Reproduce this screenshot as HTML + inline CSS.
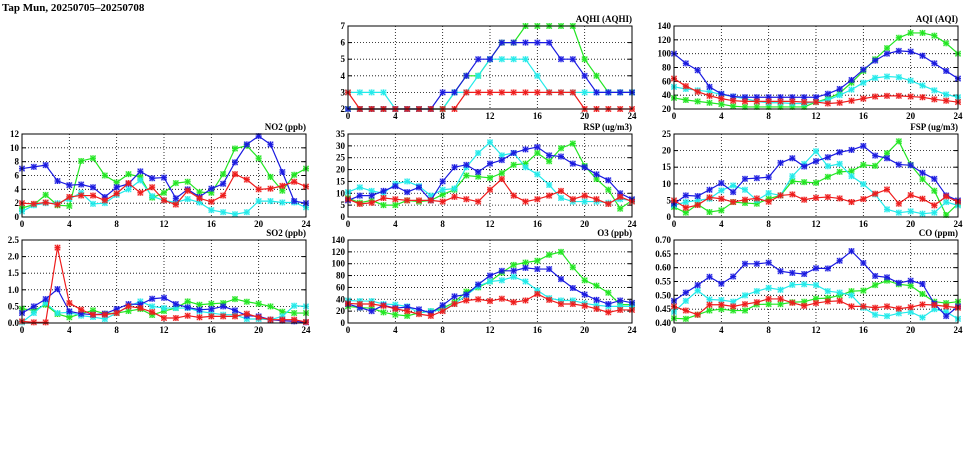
<!DOCTYPE html>
<html><head><meta charset="utf-8"><style>
html,body{margin:0;padding:0;background:#fff;}
body{width:975px;height:447px;overflow:hidden;position:relative;font-family:"Liberation Sans",sans-serif;}
svg text{font-family:"Liberation Serif",serif;font-weight:bold;font-size:9px;fill:#000;}
</style></head><body>
<svg id="chart" width="975" height="447" viewBox="0 0 975 447" xmlns="http://www.w3.org/2000/svg">
<text x="2" y="11" style="font-size:11px">Tap Mun, 20250705–20250708</text>
</svg>
<script>
const hours = [0,1,2,3,4,5,6,7,8,9,10,11,12,13,14,15,16,17,18,19,20,21,22,23,24];
const xTicks = [0,4,8,12,16,20,24];

const aqhiRed   = [3,2,2,2,2,2,2,2,2,2,3,3,3,3,3,3,3,3,3,3,2,2,2,2,2];
const aqhiGreen = [2,2,2,2,2,2,2,2,2,3,4,4,5,6,6,7,7,7,7,7,5,4,3,3,3];
const aqhiCyan  = [3,3,3,3,2,2,2,2,2,3,3,4,5,5,5,5,4,3,3,3,3,3,3,3,3];
const aqhiBlue  = [2,2,2,2,2,2,2,2,3,3,4,5,5,6,6,6,6,6,5,5,4,3,3,3,3];
const aqhiTicks = [2,3,4,5,6,7];

const aqiRed   = [64,53,45,39,35,32,31,31,31,31,31,30,30,28,29,32,35,38,39,39,38,37,34,32,30];
const aqiGreen = [36,33,31,29,27,24,23,23,23,23,23,23,30,35,43,58,75,92,108,123,130,130,126,115,100];
const aqiCyan  = [52,49,47,45,41,38,35,31,29,29,28,28,30,33,40,48,58,65,67,66,61,54,47,41,37];
const aqiBlue  = [100,86,76,52,42,38,37,37,37,37,37,37,37,42,49,62,77,90,100,104,103,97,86,75,64];
const aqiTicks = [20,40,60,80,100,120,140];

const no2Red   = [2.0,1.9,2.1,1.8,2.9,3.1,3.1,2.4,3.4,4.9,3.5,4.3,2.4,1.8,3.8,2.7,2.2,3.1,6.2,5.4,4.0,4.1,4.5,5.1,4.4];
const no2Green = [1.3,1.8,3.2,1.7,1.6,8.1,8.5,6.0,5.0,6.2,5.8,2.8,3.5,4.9,5.1,3.6,3.5,6.2,9.9,10.3,8.5,5.8,3.8,6.1,7.0];
const no2Cyan  = [0.8,1.7,2.0,2.0,2.6,3.5,1.9,2.0,3.2,4.0,5.3,3.0,2.4,2.1,2.6,2.1,1.0,0.7,0.4,0.7,2.3,2.3,2.1,2.1,1.4];
const no2Blue  = [7.0,7.25,7.5,5.2,4.6,4.7,4.3,2.9,4.3,4.8,6.6,5.6,5.7,2.7,4.0,2.9,4.1,4.8,7.9,10.5,11.7,10.5,6.5,2.3,2.0];
const no2Ticks = [0,2,4,6,8,10,12];

const rspRed   = [7.5,5.5,6,8,7.5,7,7,7,6.5,8.5,7.5,6.5,11.5,16,9,6.5,7.5,9,11,7.5,9,7.5,5.5,8.5,6.5];
const rspGreen = [8,6,7,5,5,7,6.5,7,9.5,11.5,17.5,17,16.5,18.5,22,22.5,27,23.5,29,31,21.5,16,11.5,3.5,7];
const rspCyan  = [10.5,12.5,11,10,14,15,13,9,11.5,12,21,27,31.5,26,27,21,18,13.5,8,6.5,6.5,6.5,6,7.5,7];
const rspBlue  = [7,9,9,11,13,10.5,12.5,7,15,21,22,19,22.5,24,27,28.5,29.5,26,25.5,22.5,21,18,15.5,10,7.5];
const rspTicks = [0,5,10,15,20,25,30,35];

const fspRed   = [5,2.8,3.6,5.9,5.5,4.5,5.2,5.6,4.6,6.5,6.8,5.2,5.8,6,5.6,4.5,5.4,7,8.3,4,6.6,5.5,3.5,6.2,4.6];
const fspGreen = [3,1.3,3.8,1.5,2,4.5,4.2,4,5.5,6.5,10.8,10.5,10.3,12.1,13.6,13.8,15.7,15.4,19.2,22.8,15.7,11.4,7.9,0.6,4];
const fspCyan  = [3.5,4.5,5,5.5,8,9.5,8.2,5,7.2,6.5,12.3,16,19.8,15.3,16,12.3,9.9,6.8,2.3,1.3,1.7,1,1.3,4.5,3.5];
const fspBlue  = [4,6.5,6.3,8.2,10.2,7.5,11.5,11.7,12,16.3,17.7,15.2,16.8,18,19.5,20.2,21.4,18.5,17.7,15.8,15.6,13.3,11.5,6.5,5];
const fspTicks = [0,5,10,15,20,25];

const so2Red   = [0.05,0.02,0.02,2.27,0.6,0.4,0.25,0.25,0.3,0.5,0.45,0.33,0.15,0.15,0.22,0.17,0.2,0.2,0.2,0.28,0.17,0.1,0.1,0.1,0.03];
const so2Green = [0.43,0.38,0.55,0.27,0.17,0.28,0.38,0.28,0.3,0.36,0.42,0.24,0.36,0.45,0.65,0.55,0.58,0.6,0.72,0.64,0.58,0.5,0.34,0.3,0.3];
const so2Cyan  = [0.02,0.3,0.6,0.3,0.32,0.22,0.18,0.12,0.3,0.5,0.65,0.5,0.45,0.45,0.45,0.35,0.3,0.25,0.25,0.12,0.12,0.1,0.2,0.52,0.5];
const so2Blue  = [0.3,0.5,0.72,1.02,0.35,0.28,0.25,0.28,0.42,0.57,0.56,0.73,0.76,0.57,0.47,0.4,0.42,0.5,0.38,0.22,0.2,0.1,0.07,0.05,0.02];
const so2Ticks = [0,0.5,1.0,1.5,2.0,2.5];

const o3Red   = [33,32,32,29,24,20,15,12,20,32,38,40,37,41,35,38,49,39,32,32,29,24,18,22,22];
const o3Green = [28,26,25,18,14,12,17,20,25,35,53,60,70,85,98,102,105,115,120,94,72,63,51,31,31];
const o3Cyan  = [38,37,37,32,31,28,17,20,22,32,47,62,70,72,78,70,55,42,38,38,33,30,28,28,28];
const o3Blue  = [32,26,20,30,25,27,23,17,30,45,48,65,80,88,88,93,91,91,74,59,48,39,32,38,34];
const o3Ticks = [0,20,40,60,80,100,120,140];

const coRed   = [0.46,0.445,0.43,0.466,0.466,0.46,0.468,0.475,0.487,0.487,0.473,0.462,0.472,0.478,0.48,0.46,0.46,0.455,0.46,0.452,0.457,0.467,0.465,0.46,0.455];
const coGreen = [0.417,0.415,0.43,0.445,0.45,0.445,0.445,0.467,0.468,0.468,0.475,0.477,0.488,0.49,0.50,0.515,0.517,0.537,0.553,0.54,0.535,0.505,0.477,0.472,0.477];
const coCyan  = [0.44,0.48,0.517,0.485,0.483,0.477,0.50,0.515,0.527,0.52,0.538,0.54,0.537,0.515,0.51,0.50,0.455,0.43,0.425,0.435,0.44,0.42,0.45,0.44,0.415];
const coBlue  = [0.48,0.51,0.537,0.567,0.542,0.568,0.614,0.614,0.618,0.587,0.581,0.577,0.598,0.597,0.625,0.66,0.617,0.57,0.565,0.545,0.553,0.541,0.47,0.425,0.46];
const coTicks = [0.40,0.45,0.50,0.55,0.60,0.65,0.70];

const NS = "http://www.w3.org/2000/svg";
const svg = document.getElementById('chart');
function mk(tag, attrs, parent){
  const e = document.createElementNS(NS, tag);
  for (const k in attrs) e.setAttribute(k, attrs[k]);
  (parent||svg).appendChild(e);
  return e;
}
const COLORS = {red:'#ee1c1c', green:'#22e622', cyan:'#22eaea', blue:'#1a1ae0'};

function panel(name, title, left, top, ticks, dec, series){
  const w = 284, h = 83;
  const ymin = ticks[0], ymax = ticks[ticks.length-1];
  const xs = v => left + v / 24 * w;
  const ys = v => top + h - (v - ymin) / (ymax - ymin) * h;
  const g = mk('g', {});
  
  
  ticks.forEach((t, i) => {
    if (i > 0 && i < ticks.length - 1) {
      const l = mk('line', {x1:left, x2:left+w, y1:ys(t), y2:ys(t), stroke:'#000', 'stroke-width':0.8, 'stroke-dasharray':'1,2'}, g);
      
      
    }
    const tx = mk('text', {x:left-3, y:ys(t)+3, 'text-anchor':'end'}, g);
    
    
    tx.textContent = t.toFixed(dec);
    mk('line', {x1:left, x2:left+4, y1:ys(t), y2:ys(t), stroke:'#000'}, g);
    mk('line', {x1:left+w-4, x2:left+w, y1:ys(t), y2:ys(t), stroke:'#000'}, g);
  });
  xTicks.forEach((t, i) => {
    if (i > 0 && i < xTicks.length - 1) {
      const l = mk('line', {x1:xs(t), x2:xs(t), y1:top, y2:top+h, stroke:'#000', 'stroke-width':0.8, 'stroke-dasharray':'1,2'}, g);
      
      
    }
    const tx = mk('text', {x:xs(t), y:top+h+10, 'text-anchor':'middle'}, g);
    
    
    tx.textContent = t;
  });
  series.forEach(s => {
    const col = COLORS[s.c];
    const pts = hours.map((hr, i) => xs(hr) + ',' + ys(s.d[i])).join(' ');
    const pl = mk('polyline', {points:pts, fill:'none', stroke:col, 'stroke-width':1.2}, g);
    
    
    hours.forEach((hr, i) => {
      const x = xs(hr), y = ys(s.d[i]);
      const m = mk('g', {}, g);
      
      
      mk('rect', {x:x-3, y:y-3, width:6, height:6, fill:col, opacity:0.35}, m);
      mk('path', {d:`M${x-2.6},${y-2.6}L${x+2.6},${y+2.6}M${x-2.6},${y+2.6}L${x+2.6},${y-2.6}M${x},${y-3}L${x},${y+3}M${x-3},${y}L${x+3},${y}`, stroke:col, 'stroke-width':1}, m);
    });
  });
  const box = mk('rect', {x:left, y:top, width:w, height:h, fill:'none', stroke:'#000', 'stroke-width':1}, g);
  
  
  const tt = mk('text', {x:left+w, y:top-4, 'text-anchor':'end'}, g);
  
  
  tt.textContent = title;
}
function S(r,gn,cy,b){ return [{c:'green',d:gn},{c:'cyan',d:cy},{c:'blue',d:b},{c:'red',d:r}]; }

panel('aqhi','AQHI (AQHI)',348,26,aqhiTicks,0,S(aqhiRed,aqhiGreen,aqhiCyan,aqhiBlue));
panel('aqi','AQI (AQI)',674,26,aqiTicks,0,S(aqiRed,aqiGreen,aqiCyan,aqiBlue));
panel('no2','NO2 (ppb)',22,134,no2Ticks,0,S(no2Red,no2Green,no2Cyan,no2Blue));
panel('rsp','RSP (ug/m3)',348,134,rspTicks,0,S(rspRed,rspGreen,rspCyan,rspBlue));
panel('fsp','FSP (ug/m3)',674,134,fspTicks,0,S(fspRed,fspGreen,fspCyan,fspBlue));
panel('so2','SO2 (ppb)',22,240,so2Ticks,1,S(so2Red,so2Green,so2Cyan,so2Blue));
panel('o3','O3 (ppb)',348,240,o3Ticks,0,S(o3Red,o3Green,o3Cyan,o3Blue));
panel('co','CO (ppm)',674,240,coTicks,2,S(coRed,coGreen,coCyan,coBlue));
</script>
</body></html>
